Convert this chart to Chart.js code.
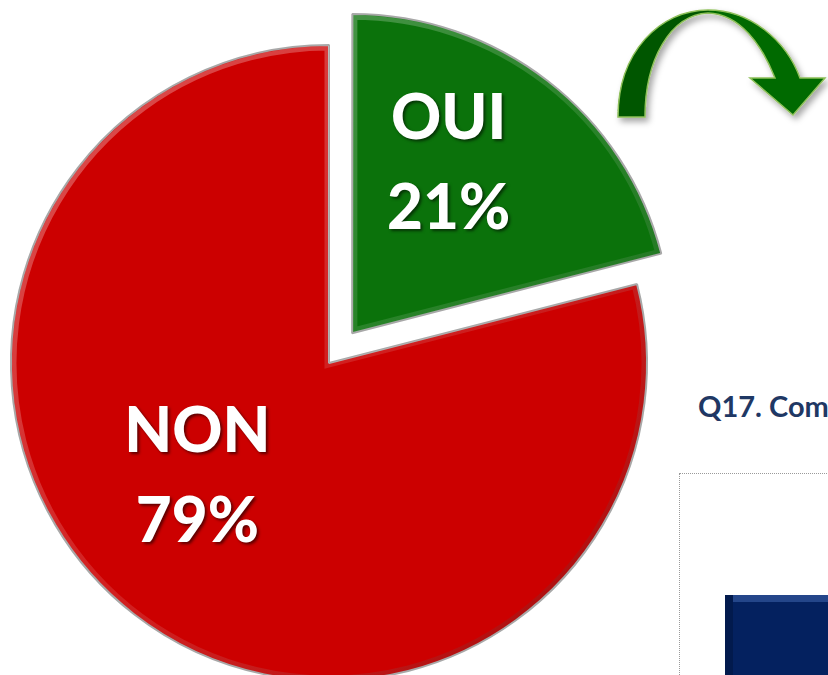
<!DOCTYPE html>
<html><head><meta charset="utf-8">
<script src="https://cdn.jsdelivr.net/npm/chart.js@4.4.0/dist/chart.umd.min.js"></script>
<style>
html,body{margin:0;padding:0;width:828px;height:675px;overflow:hidden;background:#fff;}
#wrap{position:absolute;left:0;top:0;width:828px;height:726px;}
#arrow{position:absolute;left:0;top:0;}
#q17{position:absolute;left:698px;top:388px;font-family:Lato,"Open Sans",sans-serif;font-weight:700;font-size:29px;line-height:35px;color:#1f3864;white-space:nowrap;}
#box{position:absolute;left:679px;top:473px;width:200px;height:250px;border:1px dotted #9a9a9a;}
#bar{position:absolute;left:725px;top:595px;width:150px;height:120px;background:#04215f;
 box-shadow: inset 8px 0 0 #021a4d, inset 0 7px 0 #24468a;}
</style></head><body>
<div id="box"></div>
<div id="bar"></div>
<div id="q17">Q17. Com</div>
<svg id="arrow" width="828" height="160">
 <defs>
  <linearGradient id="ag" x1="610" y1="0" x2="830" y2="0" gradientUnits="userSpaceOnUse">
   <stop offset="0.45" stop-color="#005700"/><stop offset="0.45" stop-color="#006a00"/>
  </linearGradient>
  <filter id="sh" x="-20%" y="-20%" width="140%" height="140%"><feDropShadow dx="3" dy="4" stdDeviation="3" flood-color="#000" flood-opacity="0.35"/></filter>
 </defs>
 <path filter="url(#sh)" fill="url(#ag)" stroke="#8fc05a" stroke-width="1.5"
  d="M618,117 C618,52 660,10 708,10 C750,10 786,40 800,78 L825,78 L793,115 L750,78 L775,78 C762,45 740,14 708,13 C670,15 645,60 645,117 Z"/>
</svg>
<div id="wrap"><canvas id="c" width="828" height="726"></canvas></div>
<script>
const categories = ['OUI', 'NON'];
const percentValues = [21, 79];
const sliceColors = ['#0b720b', '#cc0000'];

// label placement (styling, not data)
const labelAngleShift = [-8.2, 11.4];   // degrees from slice mid-angle
const labelRadiusFrac = [0.61, 0.547];
const labelLineGap = 90;

function arcShift(arc, p) {
  const mid = (p.startAngle + p.endAngle) / 2;
  const off = (arc.options.offset || 0) / 4;
  const fix = 1 - Math.sin(Math.min(Math.PI, p.circumference || 0));
  const d = off * (1 + fix);
  return { mid, dx: d * Math.cos(mid), dy: d * Math.sin(mid) };
}

const bevelPlugin = {
  id: 'bevel',
  afterDatasetsDraw(chart) {
    const ctx = chart.ctx;
    chart.getDatasetMeta(0).data.forEach((arc) => {
      const p = arc.getProps(['x','y','startAngle','endAngle','outerRadius','circumference'], true);
      const s = arcShift(arc, p);
      const cx = p.x + s.dx, cy = p.y + s.dy, R = p.outerRadius - 1;
      ctx.save();
      ctx.beginPath();
      ctx.moveTo(cx, cy);
      ctx.arc(cx, cy, R, p.startAngle, p.endAngle);
      ctx.closePath();
      ctx.clip();
      const g = ctx.createLinearGradient(cx - R, cy - R, cx + R, cy + R);
      g.addColorStop(0, 'rgba(255,255,255,0.35)');
      g.addColorStop(0.5, 'rgba(255,255,255,0.12)');
      g.addColorStop(1, 'rgba(0,0,0,0.25)');
      ctx.strokeStyle = g;
      ctx.lineWidth = 9;
      ctx.lineJoin = 'miter';
      ctx.stroke();
      ctx.restore();
    });
  }
};

const labelPlugin = {
  id: 'sliceLabels',
  afterDatasetsDraw(chart) {
    const ctx = chart.ctx;
    const meta = chart.getDatasetMeta(0);
    meta.data.forEach((arc, i) => {
      const p = arc.getProps(['x','y','startAngle','endAngle','outerRadius','circumference'], true);
      const s = arcShift(arc, p);
      const a = s.mid + labelAngleShift[i] * Math.PI / 180;
      const r = labelRadiusFrac[i] * p.outerRadius;
      const cx = p.x + s.dx + r * Math.cos(a);
      const cy = p.y + s.dy + r * Math.sin(a);
      ctx.save();
      ctx.font = '900 62px Lato, "Open Sans", sans-serif';
      ctx.fillStyle = '#ffffff';
      ctx.textAlign = 'center';
      ctx.textBaseline = 'middle';
      ctx.shadowColor = 'rgba(0,0,0,0.55)';
      ctx.shadowOffsetX = 2; ctx.shadowOffsetY = 2; ctx.shadowBlur = 3;
      ctx.fillText(categories[i], cx, cy - labelLineGap / 2);
      ctx.fillText(percentValues[i] + '%', cx, cy + labelLineGap / 2);
      ctx.restore();
    });
  }
};

new Chart(document.getElementById('c'), {
  type: 'pie',
  data: {
    labels: categories,
    datasets: [{
      data: percentValues,
      backgroundColor: sliceColors,
      borderColor: '#a8a8a8',
      borderWidth: 2,
      offset: [151, 0]
    }]
  },
  options: {
    responsive: false,
    animation: false,
    events: [],
    radius: 318,
    layout: { padding: { left: 0, top: 0, right: 170, bottom: 0 } },
    plugins: { legend: { display: false }, tooltip: { enabled: false } }
  },
  plugins: [bevelPlugin, labelPlugin]
});
</script>
</body></html>
